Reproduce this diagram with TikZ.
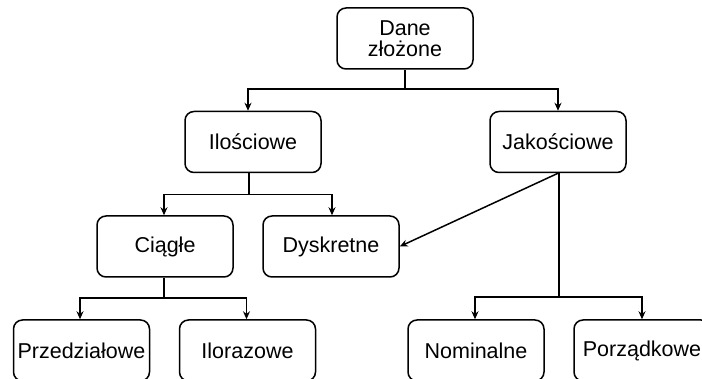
\documentclass[tikz,border=0pt]{standalone}
\usepackage{fontspec}
\setmainfont{Liberation Sans}
\usetikzlibrary{arrows.meta}
\begin{document}
\begin{tikzpicture}[x=1pt,y=-1pt,
  box/.style={draw, line width=1.5pt, rounded corners=9pt,
    minimum width=136pt, minimum height=61pt, inner sep=0pt,
    align=center, font=\fontsize{21.5}{21}\selectfont},
  link/.style={line width=1.5pt},
  arr/.style={line width=1.5pt, -{Stealth[length=8pt,width=7pt]}}]
\useasboundingbox (0,0) rectangle (702,379);

% hierarchy boxes
\node[box] (dane) at (405,38.5) {Dane\\złożone};
\node[box] (ilo)  at (253,142) {Ilościowe};
\node[box] (jak)  at (558,142) {Jakościowe};
\node[box] (cia)  at (165,246.5) {Ciągłe};
\node[box] (dys)  at (331,246.5) {Dyskretne};
\node[box] (prz)  at (81.5,350.5) {Przedziałowe};
\node[box] (ilr)  at (247.5,350.5) {Ilorazowe};
\node[box] (nom)  at (476,350.5) {Nominalne};
\node[box] (por)  at (642,350.5) {Porządkowe};

% branch points
\coordinate (j1) at (405,89);
\coordinate (j2) at (249,194.5);
\coordinate (j3) at (164,298);
\coordinate (j4) at (559,297);

% Dane złożone -> Ilościowe / Jakościowe
\draw[link] (dane.south) -- (j1);
\draw[arr] (j1) -| ([xshift=-5pt]ilo.north);
\draw[arr] (j1) -| (jak.north);

% Ilościowe -> Ciągłe / Dyskretne
\draw[link] ([xshift=-4pt]ilo.south) -- (j2);
\draw[arr] (j2) -| ([xshift=-1pt]cia.north);
\draw[arr] (j2) -| ([xshift=1pt]dys.north);

% Jakościowe -> Dyskretne
\draw[arr] (jak.south) -- (dys.east);

% Ciągłe -> Przedziałowe / Ilorazowe
\draw[link] ([xshift=-1pt]cia.south) -- (j3);
\draw[arr] (j3) -| ([xshift=-1.5pt]prz.north);
\draw[arr] (j3) -| ([xshift=-1pt]ilr.north);

% Jakościowe -> Nominalne / Porządkowe
\draw[link] ([xshift=1pt]jak.south) -- (j4);
\draw[arr] (j4) -| ([xshift=-1pt]nom.north);
\draw[arr] (j4) -| (por.north);
\end{tikzpicture}
\end{document}
